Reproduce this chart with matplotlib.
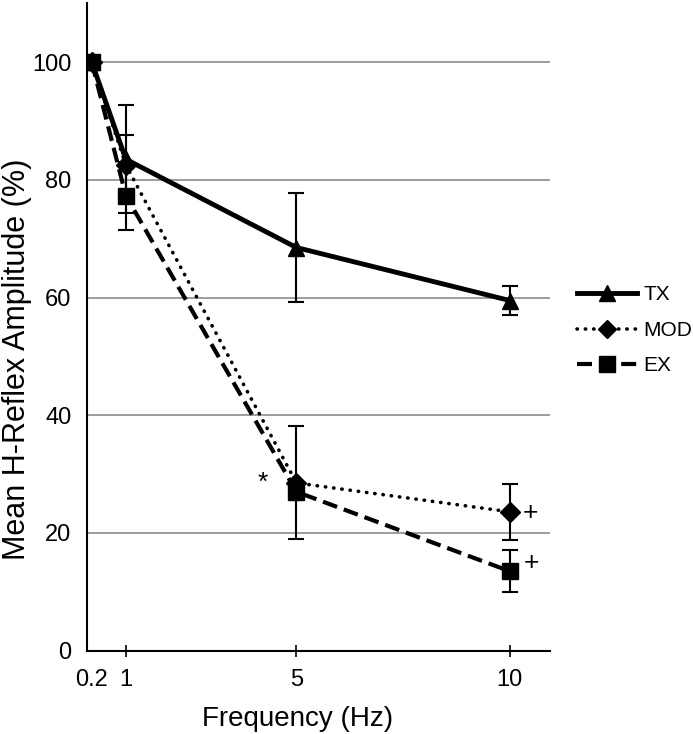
import matplotlib.pyplot as plt
from matplotlib.lines import Line2D

plt.rcParams['font.family'] = ['Liberation Sans', 'DejaVu Sans']

# data
freq = [0.2, 1, 5, 10]
tick_labels = ["0.2", "1", "5", "10"]
tx = [100, 83.5, 68.5, 59.5]
tx_err = [0, 9.2, 9.2, 2.5]
mod = [100, 82.5, 28.5, 23.6]
mod_err = [0, 5.2, 9.6, 4.8]
ex = [100, 77.3, 27.0, 13.5]
ex_err = [0, 5.8, 0, 3.6]

# significance marks
marks = ["*", "+", "+"]
mark_x = [4.2, 10.48, 10.5]
mark_y = [28.5, 23.4, 14.9]

fig = plt.figure(figsize=(6.93, 7.34), dpi=100)
ax = fig.add_axes([0.125, 0.1135, 0.669, 0.882])

# gridlines
ax.set_yticks([0, 20, 40, 60, 80, 100])
ax.yaxis.grid(True, color='#8c8c8c', linewidth=1.2)
ax.set_axisbelow(True)

eb = dict(ecolor='black', elinewidth=1.5, capsize=6, capthick=1.5)
ax.errorbar(freq, tx, yerr=tx_err, color='black', lw=3.5, marker='^', ms=12, zorder=3, **eb)
l_mod = ax.errorbar(freq, mod, yerr=mod_err, color='black', lw=2.6, ls=(0, (0.1, 2.2)),
                    marker='D', ms=10, zorder=4, **eb)
l_mod[0].set_dash_capstyle('round')
ax.errorbar(freq, ex, yerr=ex_err, color='black', lw=3, ls=(0, (3.6, 1.7)), marker='s', ms=12,
            zorder=5, **eb)

for m, x, y in zip(marks, mark_x, mark_y):
    ax.text(x, y, m, fontsize=19, ha='center', va='center')

ax.set_xlim(0.08, 10.95)
ax.set_ylim(0, 110)
ax.set_xticks(freq)
ax.set_xticklabels(tick_labels)
ax.tick_params(axis='x', direction='inout', length=9, width=1.2, labelsize=17, pad=9)
ax.tick_params(axis='y', length=0, labelsize=17, pad=11)
ax.xaxis.get_major_ticks()[0].tick1line.set_visible(False)

for s in ['top', 'right']:
    ax.spines[s].set_visible(False)
for s in ['left', 'bottom']:
    ax.spines[s].set_linewidth(1.5)

ax.set_xlabel('Frequency (Hz)', fontsize=20)
ax.xaxis.set_label_coords(0.456, -0.085)
ax.set_ylabel('Mean H-Reflex Amplitude (%)', fontsize=22)
ax.yaxis.set_label_coords(-0.118, 0.45)

# legend without error bars
handles = [
    Line2D([], [], color='black', lw=3.5, marker='^', ms=11),
    Line2D([], [], color='black', lw=2.6, ls=(0, (0.1, 2.2)), dash_capstyle='round', marker='D', ms=9),
    Line2D([], [], color='black', lw=3, ls=(0, (3.6, 1.7)), marker='s', ms=11),
]
fig.legend(handles, ['TX', 'MOD', 'EX'], loc='center left', bbox_to_anchor=(0.832, 0.550),
           frameon=False, fontsize=15, handlelength=2.9, labelspacing=0.8,
           handletextpad=0.3, borderpad=0, borderaxespad=0)

fig.savefig('out.png', dpi=100)
